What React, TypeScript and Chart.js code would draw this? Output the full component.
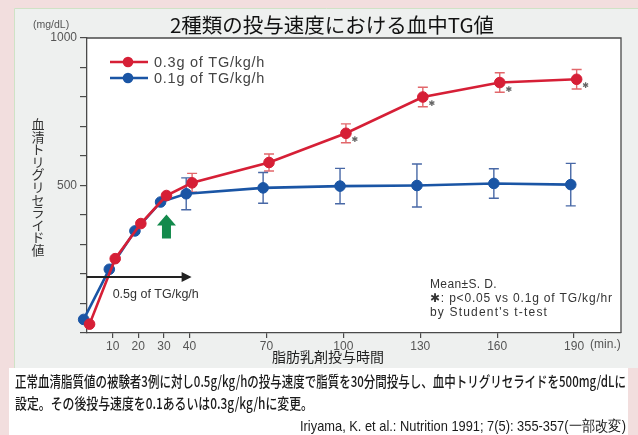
import React, { useEffect, useRef } from 'react';
import { Chart, registerables } from 'chart.js';

Chart.register(...registerables);

// ---------- data ----------
const chartTitle = '2種類の投与速度における血中TG値';
const timesMin = [0, 10, 20, 30, 40, 70, 100, 130, 160, 190];
const xTickValues = [10, 20, 30, 40, 70, 100, 130, 160, 190];
const yTickLabelValues = [500, 1000];
const series03Label = '0.3g of TG/kg/h';
const series03 = [30, 252, 371, 466, 509, 578, 677, 800, 849, 860];
const series03Sd = [0, 0, 0, 0, 32, 29, 32, 33, 33, 33];
const series03Significant = [false, false, false, false, false, false, true, true, true, true];
const series01Label = '0.1g of TG/kg/h';
const series01 = [46, 216, 346, 444, 472, 492, 498, 500, 507, 503];
const series01Sd = [0, 0, 0, 0, 54, 52, 60, 73, 50, 72];
const yTitleText = '血清トリグリセライド値';
const xTitleText = '脂肪乳剤投与時間';
const yUnitText = '(mg/dL)';
const xUnitText = '(min.)';
const infusionText = '0.5g of TG/kg/h';
const infusionEndMin = 40.8;
const infusionLevel = 190;
const switchArrowMin = 31;
const switchArrowFrom = 320;
const switchArrowTo = 402;
const noteLines = ['Mean±S. D.', '✱: p<0.05 vs 0.1g of TG/kg/hr', "by Student's t-test"];
const captionLine1 = '正常血清脂質値の被験者3例に対し0.5g/kg/hの投与速度で脂質を30分間投与し、血中トリグリセライドを500mg/dLに';
const captionLine2 = '設定。その後投与速度を0.1あるいは0.3g/kg/hに変更。';
const citationText = 'Iriyama, K. et al.: Nutrition 1991; 7(5): 355-357(一部改変)';

// ---------- style ----------
const RED = '#d61f36';
const RED_ERR = '#e2676b';
const BLUE = '#1a55a5';
const BLUE_ERR = '#4868a6';
const AXIS = '#4a4a4a';
const LAT = '"Liberation Sans", Arial, sans-serif';
const JP = '"Noto Sans CJK JP", "Noto Sans", sans-serif';
const SHIFT03 = 1;
const SHIFT01 = -1.3;

const bgPlugin = {
  id: 'bg',
  beforeDraw(chart: any) {
    const ctx = chart.ctx;
    const a = chart.chartArea;
    ctx.save();
    ctx.fillStyle = '#f2dede';
    ctx.fillRect(0, 0, 638, 435);
    ctx.fillStyle = '#eef0ef';
    ctx.fillRect(14, 8, 624, 360);
    ctx.strokeStyle = '#cfe2c6';
    ctx.lineWidth = 1;
    ctx.beginPath();
    ctx.moveTo(14.5, 368);
    ctx.lineTo(14.5, 8.5);
    ctx.lineTo(638, 8.5);
    ctx.stroke();
    ctx.fillStyle = '#ffffff';
    ctx.fillRect(9, 368, 619, 67);
    ctx.fillRect(a.left, a.top, a.right - a.left, a.bottom - a.top);
    ctx.restore();
  },
};

const errorBarPlugin = {
  id: 'errbars',
  beforeDatasetsDraw(chart: any) {
    const ctx = chart.ctx;
    const ys = chart.scales.y;
    chart.data.datasets.forEach((ds: any, di: number) => {
      const meta = chart.getDatasetMeta(di);
      const sd: number[] = ds.sd || [];
      ctx.save();
      ctx.strokeStyle = ds.errColor;
      ctx.lineWidth = 1.4;
      meta.data.forEach((pt: any, i: number) => {
        const e = sd[i];
        if (!e) return;
        const v = ds.data[i].y;
        const x = pt.x;
        const y1 = ys.getPixelForValue(v + e);
        const y2 = ys.getPixelForValue(v - e);
        ctx.beginPath();
        ctx.moveTo(x, y1);
        ctx.lineTo(x, y2);
        ctx.moveTo(x - 5, y1);
        ctx.lineTo(x + 5, y1);
        ctx.moveTo(x - 5, y2);
        ctx.lineTo(x + 5, y2);
        ctx.stroke();
      });
      ctx.restore();
    });
  },
};

function drawScaledText(ctx: any, text: string, x: number, y: number, targetWidth: number, align: string) {
  const w = ctx.measureText(text).width;
  const sx = targetWidth / w;
  ctx.save();
  ctx.translate(x, y);
  ctx.scale(sx, 1);
  ctx.textAlign = align;
  ctx.fillText(text, 0, 0);
  ctx.restore();
}

function drawSpacedText(ctx: any, text: string, x: number, y: number, targetWidth: number) {
  ctx.save();
  ctx.letterSpacing = '0px';
  const w = ctx.measureText(text).width;
  const n = Array.from(text).length;
  const sp = Math.max(0, (targetWidth - w) / n);
  ctx.letterSpacing = `${sp.toFixed(2)}px`;
  ctx.textAlign = 'left';
  ctx.fillText(text, x, y);
  ctx.restore();
}

const decorPlugin = {
  id: 'decor',
  afterDraw(chart: any) {
    const ctx = chart.ctx;
    const a = chart.chartArea;
    const xs = chart.scales.x;
    const ys = chart.scales.y;
    ctx.save();

    // plot box (top/right)
    ctx.strokeStyle = AXIS;
    ctx.lineWidth = 1.3;
    ctx.beginPath();
    ctx.moveTo(a.left, a.top);
    ctx.lineTo(a.right, a.top);
    ctx.lineTo(a.right, a.bottom);
    ctx.stroke();

    // title
    ctx.fillStyle = '#111';
    ctx.font = `20.5px ${JP}`;
    ctx.textAlign = 'center';
    ctx.textBaseline = 'middle';
    ctx.fillText(chartTitle, 332, 25);

    // y unit
    ctx.fillStyle = '#555';
    ctx.font = `10.5px ${LAT}`;
    ctx.textAlign = 'left';
    ctx.fillText(yUnitText, 33, 25);

    // y title vertical
    ctx.fillStyle = '#333';
    ctx.font = `13px ${JP}`;
    ctx.textAlign = 'center';
    const chars = Array.from(yTitleText);
    chars.forEach((c, i) => ctx.fillText(c, 38, 124 + i * 12.6));

    // x title
    ctx.fillStyle = '#222';
    ctx.font = `14px ${JP}`;
    ctx.fillText(xTitleText, 328, 357);

    // x unit
    ctx.fillStyle = '#555';
    ctx.font = `12px ${LAT}`;
    ctx.textAlign = 'left';
    ctx.fillText(xUnitText, xs.getPixelForValue(190) + 16, 345);

    // legend
    const legendItems = chart.data.datasets.map((ds: any) => ({ label: ds.label, color: ds.borderColor }));
    legendItems.forEach((it: any, i: number) => {
      const y = a.top + 24 + i * 16;
      ctx.strokeStyle = it.color;
      ctx.lineWidth = 2.6;
      ctx.beginPath();
      ctx.moveTo(a.left + 23, y);
      ctx.lineTo(a.left + 61, y);
      ctx.stroke();
      ctx.fillStyle = it.color;
      ctx.beginPath();
      ctx.arc(a.left + 41, y, 5.3, 0, Math.PI * 2);
      ctx.fill();
      ctx.fillStyle = '#444';
      ctx.font = `14.5px ${LAT}`;
      drawSpacedText(ctx, it.label, a.left + 67, y + 0.5, 111);
    });

    // infusion arrow
    const ay = ys.getPixelForValue(infusionLevel);
    const ax0 = xs.getPixelForValue(0);
    const ax1 = xs.getPixelForValue(infusionEndMin);
    ctx.strokeStyle = '#222';
    ctx.fillStyle = '#222';
    ctx.lineWidth = 2;
    ctx.beginPath();
    ctx.moveTo(ax0, ay);
    ctx.lineTo(ax1 - 8, ay);
    ctx.stroke();
    ctx.beginPath();
    ctx.moveTo(ax1, ay);
    ctx.lineTo(ax1 - 10, ay - 5);
    ctx.lineTo(ax1 - 10, ay + 5);
    ctx.closePath();
    ctx.fill();
    ctx.fillStyle = '#333';
    ctx.font = `12.5px ${LAT}`;
    ctx.textAlign = 'left';
    ctx.fillText(infusionText, xs.getPixelForValue(10), ay + 18);

    // green switch arrow
    const gx = xs.getPixelForValue(switchArrowMin);
    const gTip = ys.getPixelForValue(switchArrowTo);
    const gBase = ys.getPixelForValue(switchArrowFrom);
    ctx.fillStyle = '#138a4c';
    ctx.beginPath();
    ctx.moveTo(gx, gTip);
    ctx.lineTo(gx + 9.5, gTip + 11);
    ctx.lineTo(gx + 4.5, gTip + 11);
    ctx.lineTo(gx + 4.5, gBase);
    ctx.lineTo(gx - 4.5, gBase);
    ctx.lineTo(gx - 4.5, gTip + 11);
    ctx.lineTo(gx - 9.5, gTip + 11);
    ctx.closePath();
    ctx.fill();

    // significance markers
    const meta03 = chart.getDatasetMeta(0);
    ctx.fillStyle = '#666';
    ctx.font = `8px "DejaVu Sans", sans-serif`;
    ctx.textAlign = 'center';
    meta03.data.forEach((pt: any, i: number) => {
      if (series03Significant[i]) ctx.fillText('✱', pt.x + 9, pt.y + 7);
    });

    // notes
    ctx.fillStyle = '#333';
    ctx.font = `12px ${LAT}`;
    const noteWidths = [67, 183, 118];
    noteLines.forEach((t, i) => drawSpacedText(ctx, t, a.left + 343, a.bottom - 48 + i * 14, noteWidths[i]));

    // captions
    ctx.fillStyle = '#1a1a1a';
    ctx.font = `500 15px ${JP}`;
    ctx.textBaseline = 'middle';
    drawScaledText(ctx, captionLine1, 15, 381, 611, 'left');
    drawScaledText(ctx, captionLine2, 15, 403, 298, 'left');
    ctx.font = `14.5px ${LAT}`;
    drawScaledText(ctx, citationText, 626, 427, 326, 'right');

    ctx.restore();
  },
};

export default function App() {
  const ref = useRef<HTMLCanvasElement | null>(null);
  useEffect(() => {
    document.body.style.margin = '0';
    const canvas = ref.current;
    if (!canvas) return;
    const chart = new Chart(canvas, {
      type: 'line',
      data: {
        datasets: [
          {
            label: series03Label,
            data: timesMin.map((t, i) => ({ x: t + SHIFT03, y: series03[i] })),
            borderColor: RED,
            backgroundColor: RED,
            pointBackgroundColor: RED,
            pointBorderColor: RED,
            pointRadius: 5.3,
            pointBorderWidth: 1,
            borderWidth: 2.6,
            tension: 0,
            clip: false,
            sd: series03Sd,
            errColor: RED_ERR,
          } as any,
          {
            label: series01Label,
            data: timesMin.map((t, i) => ({ x: t + SHIFT01, y: series01[i] })),
            borderColor: BLUE,
            backgroundColor: BLUE,
            pointBackgroundColor: BLUE,
            pointBorderColor: BLUE,
            pointRadius: 5.3,
            pointBorderWidth: 1,
            borderWidth: 2.6,
            tension: 0,
            clip: false,
            sd: series01Sd,
            errColor: BLUE_ERR,
          } as any,
        ],
      },
      options: {
        animation: false,
        responsive: false,
        devicePixelRatio: 1,
        layout: { padding: { left: 0, top: 38, right: 17, bottom: 0 } },
        plugins: {
          legend: { display: false },
          tooltip: { enabled: false },
          title: { display: false },
        },
        scales: {
          x: {
            type: 'linear',
            min: 0,
            max: 208.3,
            afterBuildTicks: (s: any) => {
              s.ticks = xTickValues.map((v) => ({ value: v }));
            },
            afterFit: (s: any) => {
              s.height = 102;
            },
            ticks: {
              autoSkip: false,
              maxRotation: 0,
              padding: 1,
              color: '#555',
              font: { family: LAT, size: 12 },
            },
            grid: { drawOnChartArea: false, drawTicks: true, tickLength: 5, color: AXIS, lineWidth: 1.2 },
            border: { display: true, color: AXIS, width: 1.3 },
          },
          y: {
            type: 'linear',
            min: 0,
            max: 1000,
            afterFit: (s: any) => {
              s.width = 87;
            },
            ticks: {
              stepSize: 100,
              padding: 3,
              color: '#555',
              font: { family: LAT, size: 12 },
              callback: (v: any) => (yTickLabelValues.includes(Number(v)) ? String(v) : ''),
            },
            grid: { drawOnChartArea: false, drawTicks: true, tickLength: 7, color: AXIS, lineWidth: 1.2 },
            border: { display: true, color: AXIS, width: 1.3 },
          },
        },
      } as any,
      plugins: [bgPlugin, errorBarPlugin, decorPlugin],
    });
    return () => chart.destroy();
  }, []);
  return (
    <div style={{ width: 638, height: 435 }}>
      <canvas ref={ref} width={638} height={435} style={{ display: 'block', width: 638, height: 435 }} />
    </div>
  );
}
